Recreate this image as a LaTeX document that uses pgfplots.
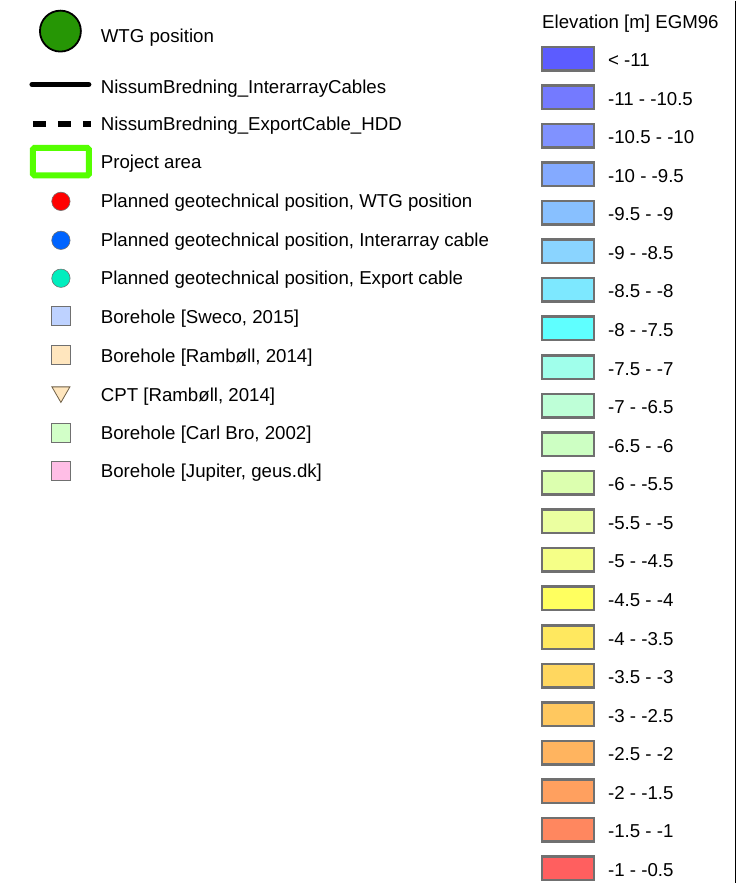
\documentclass[border=0pt]{standalone}
\usepackage{fontspec}
\setmainfont{Liberation Sans}
\usepackage{pgfplots}
\pgfplotsset{compat=1.18}
\definecolor{wtg}{RGB}{38,150,5}
\definecolor{proj}{RGB}{85,255,0}
\definecolor{mred}{RGB}{255,0,0}
\definecolor{mblue}{RGB}{0,100,255}
\definecolor{mteal}{RGB}{0,238,190}
\definecolor{sweco}{RGB}{190,210,255}
\definecolor{ramb}{RGB}{255,230,190}
\definecolor{carl}{RGB}{210,255,200}
\definecolor{jup}{RGB}{255,190,230}
\definecolor{swgray}{RGB}{112,112,112}
\definecolor{c0}{RGB}{92,92,255}
\definecolor{c1}{RGB}{116,122,255}
\definecolor{c2}{RGB}{128,146,255}
\definecolor{c3}{RGB}{132,170,255}
\definecolor{c4}{RGB}{136,192,255}
\definecolor{c5}{RGB}{138,212,255}
\definecolor{c6}{RGB}{125,232,255}
\definecolor{c7}{RGB}{95,255,255}
\definecolor{c8}{RGB}{160,255,235}
\definecolor{c9}{RGB}{190,255,215}
\definecolor{c10}{RGB}{205,255,195}
\definecolor{c11}{RGB}{220,255,175}
\definecolor{c12}{RGB}{235,255,160}
\definecolor{c13}{RGB}{245,255,135}
\definecolor{c14}{RGB}{255,255,95}
\definecolor{c15}{RGB}{255,232,95}
\definecolor{c16}{RGB}{255,215,95}
\definecolor{c17}{RGB}{255,200,95}
\definecolor{c18}{RGB}{255,180,95}
\definecolor{c19}{RGB}{255,160,95}
\definecolor{c20}{RGB}{255,135,95}
\definecolor{c21}{RGB}{255,95,95}
\pgfdeclareplotmark{swatch}{\pgfpathrectangle{\pgfpoint{-26pt}{-11.75pt}}{\pgfpoint{52pt}{23.5pt}}\pgfusepathqfillstroke}
\tikzset{lab/.style={anchor=base west, inner sep=0pt, outer sep=0pt}}
\begin{document}
\fontsize{18.7}{22}\selectfont
\begin{tikzpicture}
\begin{axis}[width=741pt, height=884pt, scale only axis, xmin=0, xmax=741, ymin=0, ymax=884, y dir=reverse, hide axis, clip=false]
% left column symbols
\addplot[only marks, mark=*, mark size=20.5pt, mark options={fill=wtg, draw=black, line width=1.8pt}] coordinates {(60.5,30.5)};
\addplot[black, line width=5pt, line cap=round] coordinates {(32,84) (89,84)};
\addplot[black, line width=6pt, dash pattern=on 13pt off 12pt] coordinates {(33,123.5) (91,123.5)};
\addplot[draw=proj, fill=white, line width=6pt, rounded corners=1.5pt] coordinates {(33,147.5) (89,147.5) (89,175) (33,175)} -- cycle;
\addplot[only marks, mark=*, mark size=9.2pt, mark options={fill=mred, draw=swgray, line width=0.6pt}] coordinates {(61,201)};
\addplot[only marks, mark=*, mark size=9.2pt, mark options={fill=mblue, draw=swgray, line width=0.6pt}] coordinates {(61,240)};
\addplot[only marks, mark=*, mark size=9.2pt, mark options={fill=mteal, draw=swgray, line width=0.6pt}] coordinates {(61,278)};
\addplot[only marks, mark=square*, mark size=9.5pt, mark options={fill=sweco, draw=swgray, line width=0.8pt}] coordinates {(61,316)};
\addplot[only marks, mark=square*, mark size=9.5pt, mark options={fill=ramb, draw=swgray, line width=0.8pt}] coordinates {(61,354.5)};
\addplot[only marks, mark=triangle*, mark size=10.4pt, mark options={fill=ramb, draw={rgb,255:red,110;green,95;blue,70}, line width=0.8pt, rotate=180}] coordinates {(61,392)};
\addplot[only marks, mark=square*, mark size=9.5pt, mark options={fill=carl, draw=swgray, line width=0.8pt}] coordinates {(61,432.5)};
\addplot[only marks, mark=square*, mark size=9.5pt, mark options={fill=jup, draw=swgray, line width=0.8pt}] coordinates {(61,471)};
% left column labels
\node[lab] at (axis cs:101,41.5) {WTG position};
\node[lab] at (axis cs:101,92.5) {NissumBredning\_InterarrayCables};
\node[lab] at (axis cs:101,130.5) {NissumBredning\_ExportCable\_HDD};
\node[lab] at (axis cs:101,168.5) {Project area};
\node[lab] at (axis cs:101,207.5) {Planned geotechnical position, WTG position};
\node[lab] at (axis cs:101,246.5) {Planned geotechnical position, Interarray cable};
\node[lab] at (axis cs:101,284.5) {Planned geotechnical position, Export cable};
\node[lab] at (axis cs:101,323.5) {Borehole [Sweco, 2015]};
\node[lab] at (axis cs:101,362.5) {Borehole [Rambøll, 2014]};
\node[lab] at (axis cs:101,401.5) {CPT [Rambøll, 2014]};
\node[lab] at (axis cs:101,439.5) {Borehole [Carl Bro, 2002]};
\node[lab] at (axis cs:101,478) {Borehole [Jupiter, geus.dk]};
% right column
\node[lab] at (axis cs:543,28.3) {Elevation [m] EGM96};
\addplot[only marks, mark=swatch, mark options={fill=c0, draw=swgray, line width=2.5pt}] coordinates {(569,58)};
\addplot[only marks, mark=swatch, mark options={fill=c1, draw=swgray, line width=2.5pt}] coordinates {(569,96.6)};
\addplot[only marks, mark=swatch, mark options={fill=c2, draw=swgray, line width=2.5pt}] coordinates {(569,135.2)};
\addplot[only marks, mark=swatch, mark options={fill=c3, draw=swgray, line width=2.5pt}] coordinates {(569,173.9)};
\addplot[only marks, mark=swatch, mark options={fill=c4, draw=swgray, line width=2.5pt}] coordinates {(569,212.5)};
\addplot[only marks, mark=swatch, mark options={fill=c5, draw=swgray, line width=2.5pt}] coordinates {(569,251.1)};
\addplot[only marks, mark=swatch, mark options={fill=c6, draw=swgray, line width=2.5pt}] coordinates {(569,289.7)};
\addplot[only marks, mark=swatch, mark options={fill=c7, draw=swgray, line width=2.5pt}] coordinates {(569,328.3)};
\addplot[only marks, mark=swatch, mark options={fill=c8, draw=swgray, line width=2.5pt}] coordinates {(569,367.0)};
\addplot[only marks, mark=swatch, mark options={fill=c9, draw=swgray, line width=2.5pt}] coordinates {(569,405.6)};
\addplot[only marks, mark=swatch, mark options={fill=c10, draw=swgray, line width=2.5pt}] coordinates {(569,444.2)};
\addplot[only marks, mark=swatch, mark options={fill=c11, draw=swgray, line width=2.5pt}] coordinates {(569,482.8)};
\addplot[only marks, mark=swatch, mark options={fill=c12, draw=swgray, line width=2.5pt}] coordinates {(569,521.4)};
\addplot[only marks, mark=swatch, mark options={fill=c13, draw=swgray, line width=2.5pt}] coordinates {(569,560.1)};
\addplot[only marks, mark=swatch, mark options={fill=c14, draw=swgray, line width=2.5pt}] coordinates {(569,598.7)};
\addplot[only marks, mark=swatch, mark options={fill=c15, draw=swgray, line width=2.5pt}] coordinates {(569,637.3)};
\addplot[only marks, mark=swatch, mark options={fill=c16, draw=swgray, line width=2.5pt}] coordinates {(569,675.9)};
\addplot[only marks, mark=swatch, mark options={fill=c17, draw=swgray, line width=2.5pt}] coordinates {(569,714.5)};
\addplot[only marks, mark=swatch, mark options={fill=c18, draw=swgray, line width=2.5pt}] coordinates {(569,753.2)};
\addplot[only marks, mark=swatch, mark options={fill=c19, draw=swgray, line width=2.5pt}] coordinates {(569,791.8)};
\addplot[only marks, mark=swatch, mark options={fill=c20, draw=swgray, line width=2.5pt}] coordinates {(569,830.4)};
\addplot[only marks, mark=swatch, mark options={fill=c21, draw=swgray, line width=2.5pt}] coordinates {(569,869.0)};
\node[lab] at (axis cs:609,66) {< -11};
\node[lab] at (axis cs:609,104.6) {-11 - -10.5};
\node[lab] at (axis cs:609,143.2) {-10.5 - -10};
\node[lab] at (axis cs:609,181.9) {-10 - -9.5};
\node[lab] at (axis cs:609,220.5) {-9.5 - -9};
\node[lab] at (axis cs:609,259.1) {-9 - -8.5};
\node[lab] at (axis cs:609,297.7) {-8.5 - -8};
\node[lab] at (axis cs:609,336.3) {-8 - -7.5};
\node[lab] at (axis cs:609,375) {-7.5 - -7};
\node[lab] at (axis cs:609,413.6) {-7 - -6.5};
\node[lab] at (axis cs:609,452.2) {-6.5 - -6};
\node[lab] at (axis cs:609,490.8) {-6 - -5.5};
\node[lab] at (axis cs:609,529.4) {-5.5 - -5};
\node[lab] at (axis cs:609,568.1) {-5 - -4.5};
\node[lab] at (axis cs:609,606.7) {-4.5 - -4};
\node[lab] at (axis cs:609,645.3) {-4 - -3.5};
\node[lab] at (axis cs:609,683.9) {-3.5 - -3};
\node[lab] at (axis cs:609,722.5) {-3 - -2.5};
\node[lab] at (axis cs:609,761.2) {-2.5 - -2};
\node[lab] at (axis cs:609,799.8) {-2 - -1.5};
\node[lab] at (axis cs:609,838.4) {-1.5 - -1};
\node[lab] at (axis cs:609,877) {-1 - -0.5};
% frame line on the right
\addplot[black, line width=1.3pt] coordinates {(736.7,0) (736.7,884)};
\end{axis}
\path (current axis.south west) rectangle (current axis.north east);
\end{tikzpicture}
\end{document}
